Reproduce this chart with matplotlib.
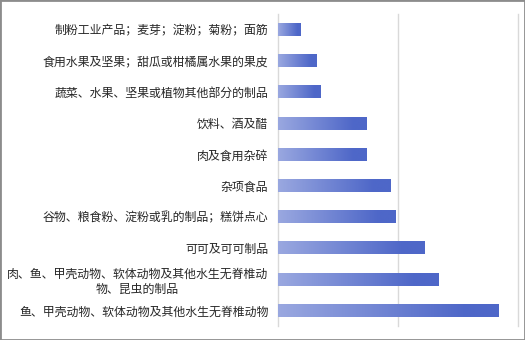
import matplotlib.pyplot as plt
import numpy as np
from matplotlib.colors import LinearSegmentedColormap
from matplotlib.patches import Rectangle

plt.rcParams["font.family"] = ["Noto Sans CJK SC", "DejaVu Sans"]

categories = [
    "制粉工业产品；麦芽；淀粉；菊粉；面筋",
    "食用水果及坚果；甜瓜或柑橘属水果的果皮",
    "蔬菜、水果、坚果或植物其他部分的制品",
    "饮料、酒及醋",
    "肉及食用杂碎",
    "杂项食品",
    "谷物、粮食粉、淀粉或乳的制品；糕饼点心",
    "可可及可可制品",
    "肉、鱼、甲壳动物、软体动物及其他水生无脊椎动\n物、昆虫的制品",
    "鱼、甲壳动物、软体动物及其他水生无脊椎动物",
]
values = [184, 325, 358, 740, 740, 940, 980, 1224, 1340, 1840]

x_max = 2000
bar_h = 0.41
cmap = LinearSegmentedColormap.from_list(
    "grad", [(0.0, "#9AA8E0"), (0.85, "#4E67C8"), (1.0, "#4E67C8")]
)


def main() -> None:
    fig = plt.figure(figsize=(5.25, 3.4), dpi=100)
    ax = fig.add_axes([278 / 525, 14 / 340, 240 / 525, 312 / 340])

    n = len(categories)
    ypos = np.arange(n)[::-1]
    grad = np.linspace(0, 1, 256).reshape(1, -1)
    for y, v in zip(ypos, values):
        ax.imshow(
            grad, cmap=cmap, aspect="auto", interpolation="bilinear",
            extent=(0, v, y - bar_h / 2, y + bar_h / 2), zorder=2,
        )

    ax.set_xlim(0, x_max)
    ax.set_ylim(-0.5, n - 0.5)
    ax.set_xticks([0, 1000, 2000])
    ax.set_xticklabels([])
    ax.tick_params(axis="x", length=0)
    ax.grid(True, axis="x", color="#D9D9D9", linewidth=1)
    for gl in ax.get_xgridlines():
        gl.set_clip_on(False)
    ax.set_axisbelow(True)
    ax.set_yticks(ypos)
    ax.set_yticklabels(categories, fontsize=8.6, color="#262626", multialignment="center")
    ax.tick_params(axis="y", length=0, pad=7)
    for s in ax.spines.values():
        s.set_visible(False)

    fig.add_artist(Rectangle((0, 0), 1, 1, transform=fig.transFigure,
                             fill=False, edgecolor="#8C8C8C", linewidth=2))
    fig.savefig("out.png", dpi=100)


if __name__ == "__main__":
    main()
